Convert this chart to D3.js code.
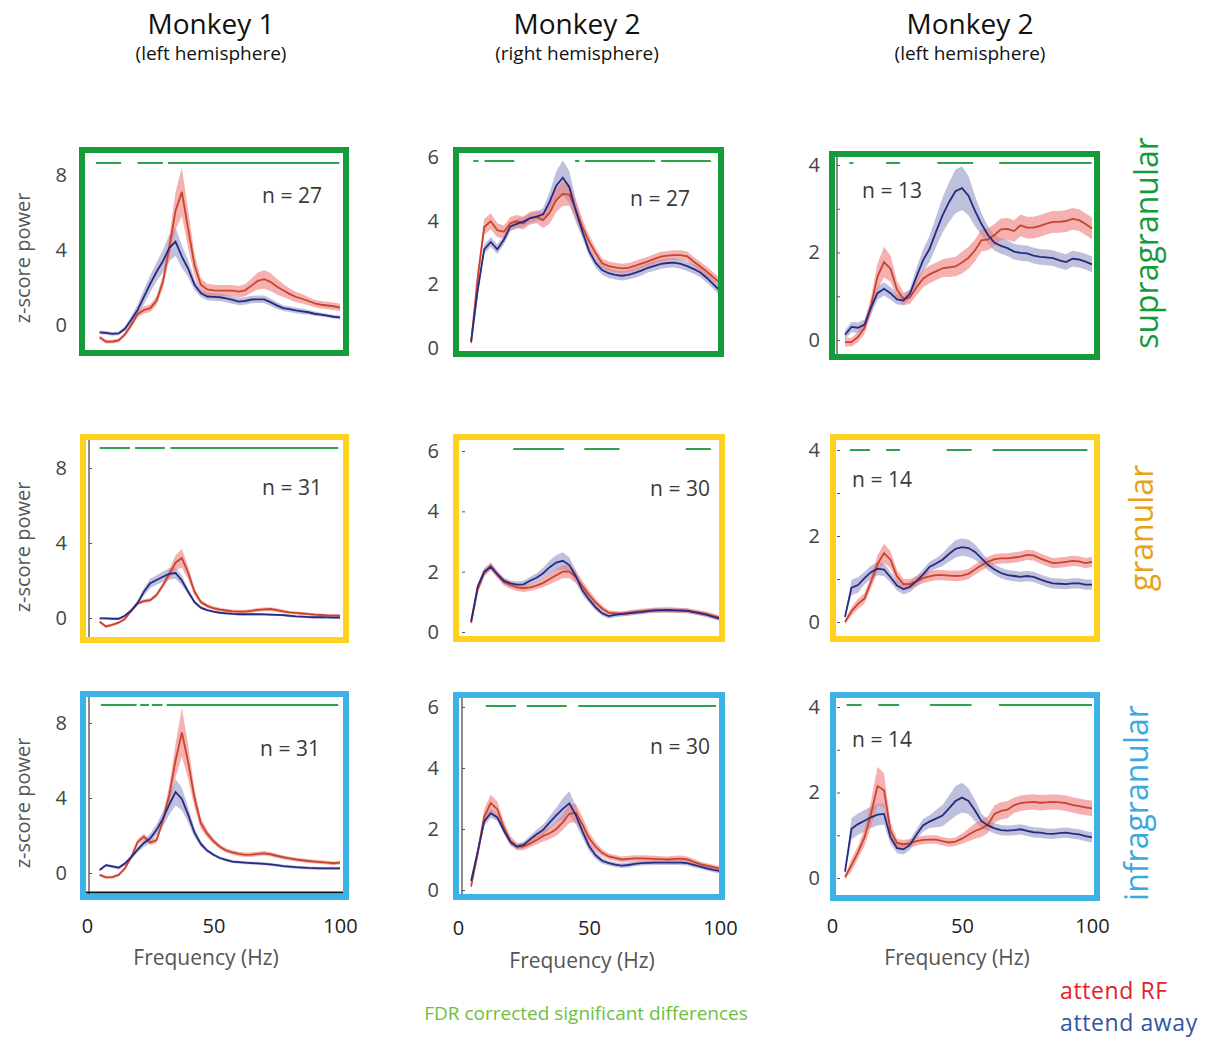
<!DOCTYPE html>
<html>
<head>
<meta charset="utf-8">
<script src="https://cdn.jsdelivr.net/npm/d3@7"></script>
<style>
  body { margin: 0; background: #fff; }
  svg { display: block; }
  text { font-family: 'Open Sans', 'Noto Sans', sans-serif; }
</style>
</head>
<body>
<svg id="fig" width="1227" height="1039"></svg>
<script>
// Frequency grid (Hz) shared by every spectrum
const freqs = d3.range(5, 100.01, 2.5);

// ---- Monkey 1, left hemisphere ----
const supraM1L_rf      = [-0.66,-0.89,-0.89,-0.82,-0.5,0.0,0.58,0.8,0.9,1.3,2.3,4.1,6.1,7.1,5.1,3.2,2.15,1.9,1.85,1.83,1.83,1.83,1.78,1.85,2.1,2.35,2.44,2.3,2.05,1.85,1.66,1.5,1.4,1.28,1.15,1.08,1.04,1.0,0.93];
const supraM1L_rfSem   = [0.1,0.1,0.1,0.1,0.12,0.15,0.18,0.2,0.2,0.25,0.35,0.6,1.0,1.3,1.0,0.6,0.35,0.3,0.3,0.3,0.3,0.3,0.3,0.32,0.38,0.45,0.5,0.48,0.42,0.35,0.3,0.28,0.25,0.22,0.2,0.2,0.2,0.2,0.2];
const supraM1L_away    = [-0.39,-0.42,-0.47,-0.45,-0.2,0.28,0.8,1.5,2.2,2.84,3.4,4.1,4.45,3.65,3.0,2.15,1.7,1.52,1.5,1.48,1.42,1.34,1.25,1.28,1.36,1.37,1.37,1.22,1.05,0.9,0.85,0.78,0.73,0.68,0.6,0.55,0.5,0.44,0.41];
const supraM1L_awaySem = [0.1,0.1,0.1,0.1,0.12,0.2,0.3,0.4,0.45,0.5,0.6,0.7,0.75,0.6,0.45,0.3,0.2,0.2,0.2,0.2,0.2,0.2,0.2,0.2,0.2,0.2,0.2,0.2,0.18,0.15,0.15,0.15,0.15,0.12,0.12,0.1,0.1,0.1,0.1];

const granM1L_rf       = [-0.2,-0.45,-0.36,-0.25,-0.05,0.4,0.78,0.9,0.95,1.23,1.75,2.35,2.95,3.2,2.4,1.4,0.85,0.65,0.52,0.45,0.4,0.35,0.34,0.34,0.38,0.43,0.46,0.48,0.42,0.35,0.3,0.27,0.24,0.21,0.18,0.16,0.14,0.13,0.12];
const granM1L_rfSem    = [0.08,0.08,0.08,0.08,0.08,0.1,0.1,0.1,0.1,0.12,0.15,0.25,0.4,0.5,0.35,0.2,0.12,0.1,0.1,0.1,0.1,0.1,0.1,0.1,0.1,0.1,0.1,0.1,0.1,0.1,0.08,0.08,0.08,0.08,0.08,0.08,0.08,0.08,0.08];
const granM1L_away     = [-0.02,-0.02,-0.04,-0.04,0.12,0.4,0.8,1.4,1.85,2.03,2.2,2.35,2.4,2.0,1.4,0.85,0.55,0.42,0.34,0.28,0.25,0.22,0.2,0.2,0.2,0.2,0.19,0.18,0.17,0.15,0.12,0.09,0.07,0.05,0.04,0.04,0.03,0.02,0.02];
const granM1L_awaySem  = [0.06,0.06,0.06,0.06,0.08,0.1,0.15,0.2,0.25,0.25,0.28,0.3,0.3,0.25,0.15,0.1,0.08,0.06,0.06,0.06,0.06,0.06,0.06,0.06,0.06,0.06,0.06,0.06,0.06,0.06,0.06,0.06,0.06,0.06,0.06,0.06,0.06,0.06,0.06];

const infraM1L_rf      = [-0.1,-0.23,-0.22,-0.1,0.25,0.85,1.65,1.94,1.62,1.75,2.8,4.15,6.0,7.5,5.9,4.0,2.65,2.1,1.7,1.4,1.2,1.1,1.02,0.97,0.98,1.02,1.05,1.0,0.92,0.84,0.78,0.72,0.68,0.64,0.61,0.58,0.55,0.52,0.55];
const infraM1L_rfSem   = [0.08,0.08,0.08,0.08,0.1,0.12,0.15,0.15,0.12,0.15,0.25,0.5,0.9,1.3,0.9,0.5,0.3,0.2,0.15,0.12,0.12,0.12,0.12,0.12,0.12,0.12,0.12,0.12,0.1,0.1,0.1,0.1,0.1,0.1,0.1,0.1,0.1,0.1,0.1];
const infraM1L_away    = [0.16,0.42,0.35,0.28,0.5,0.85,1.25,1.6,1.85,2.3,2.9,3.65,4.32,3.95,3.1,2.15,1.55,1.2,0.97,0.8,0.7,0.61,0.58,0.55,0.53,0.51,0.49,0.46,0.42,0.37,0.34,0.31,0.29,0.27,0.26,0.25,0.25,0.25,0.25];
const infraM1L_awaySem = [0.08,0.08,0.08,0.08,0.1,0.12,0.15,0.2,0.25,0.3,0.4,0.55,0.7,0.6,0.4,0.25,0.15,0.1,0.08,0.08,0.08,0.08,0.08,0.08,0.08,0.08,0.08,0.08,0.08,0.08,0.08,0.08,0.08,0.08,0.08,0.08,0.08,0.08,0.08];

// ---- Monkey 2, right hemisphere ----
const supraM2R_rf      = [0.17,2.2,3.8,3.98,3.7,3.65,3.92,3.98,3.92,4.08,4.12,4.02,4.25,4.65,4.84,4.82,4.35,3.8,3.35,2.98,2.66,2.57,2.53,2.5,2.52,2.58,2.65,2.72,2.8,2.87,2.9,2.92,2.92,2.88,2.71,2.56,2.4,2.22,2.05];
const supraM2R_rfSem   = [0.1,0.25,0.25,0.25,0.22,0.2,0.2,0.2,0.2,0.2,0.2,0.25,0.35,0.38,0.38,0.35,0.3,0.25,0.2,0.18,0.15,0.15,0.15,0.15,0.15,0.15,0.15,0.15,0.15,0.15,0.15,0.15,0.15,0.15,0.15,0.15,0.15,0.15,0.15];
const supraM2R_away    = [0.2,1.8,3.1,3.33,3.1,3.4,3.82,3.9,3.97,4.08,4.13,4.2,4.6,5.1,5.35,5.05,4.3,3.65,3.05,2.68,2.45,2.35,2.3,2.27,2.3,2.36,2.43,2.52,2.58,2.64,2.67,2.68,2.64,2.57,2.48,2.37,2.2,2.0,1.8];
const supraM2R_awaySem = [0.1,0.2,0.15,0.15,0.15,0.15,0.15,0.15,0.15,0.15,0.15,0.2,0.3,0.45,0.55,0.5,0.35,0.2,0.15,0.15,0.15,0.15,0.15,0.15,0.15,0.15,0.15,0.15,0.15,0.15,0.15,0.15,0.15,0.15,0.15,0.15,0.15,0.15,0.15];

const granM2R_rf       = [0.3,1.4,1.95,2.19,1.9,1.66,1.55,1.48,1.45,1.48,1.54,1.63,1.76,1.88,2.0,2.0,1.82,1.52,1.23,0.98,0.78,0.64,0.62,0.6,0.63,0.67,0.69,0.71,0.73,0.73,0.73,0.72,0.72,0.71,0.67,0.63,0.59,0.53,0.47];
const granM2R_rfSem    = [0.08,0.1,0.12,0.12,0.12,0.12,0.12,0.12,0.12,0.12,0.12,0.15,0.18,0.2,0.22,0.22,0.2,0.18,0.15,0.12,0.1,0.08,0.08,0.08,0.08,0.08,0.08,0.08,0.08,0.08,0.08,0.08,0.08,0.08,0.08,0.08,0.08,0.08,0.08];
const granM2R_away     = [0.35,1.5,2.0,2.16,1.92,1.7,1.61,1.57,1.58,1.7,1.8,1.95,2.15,2.3,2.36,2.22,1.85,1.38,1.08,0.82,0.62,0.53,0.57,0.6,0.62,0.64,0.66,0.69,0.71,0.72,0.73,0.72,0.71,0.7,0.66,0.62,0.57,0.5,0.44];
const granM2R_awaySem  = [0.08,0.1,0.12,0.12,0.1,0.1,0.1,0.1,0.12,0.12,0.15,0.18,0.22,0.25,0.28,0.25,0.2,0.15,0.12,0.1,0.08,0.08,0.08,0.08,0.08,0.08,0.08,0.08,0.08,0.08,0.08,0.08,0.08,0.08,0.08,0.08,0.08,0.08,0.08];

const infraM2R_rf      = [0.12,1.2,2.4,2.85,2.65,2.05,1.62,1.42,1.42,1.52,1.64,1.77,1.86,2.0,2.22,2.5,2.53,2.15,1.7,1.42,1.22,1.1,1.05,1.0,1.02,1.04,1.04,1.03,1.02,1.01,1.0,1.02,1.03,1.0,0.92,0.85,0.8,0.75,0.7];
const infraM2R_rfSem   = [0.08,0.2,0.25,0.28,0.25,0.2,0.15,0.12,0.12,0.12,0.15,0.18,0.2,0.22,0.25,0.3,0.3,0.25,0.2,0.15,0.12,0.1,0.1,0.1,0.1,0.1,0.1,0.1,0.1,0.1,0.1,0.1,0.1,0.1,0.1,0.08,0.08,0.08,0.08];
const infraM2R_away    = [0.3,1.25,2.25,2.52,2.38,1.95,1.57,1.42,1.48,1.66,1.83,1.97,2.22,2.45,2.66,2.84,2.45,1.92,1.44,1.14,0.96,0.88,0.83,0.8,0.82,0.86,0.88,0.89,0.9,0.9,0.9,0.9,0.9,0.88,0.82,0.77,0.71,0.66,0.62];
const infraM2R_awaySem = [0.08,0.15,0.15,0.15,0.12,0.1,0.1,0.1,0.1,0.12,0.15,0.18,0.2,0.25,0.35,0.4,0.3,0.2,0.15,0.12,0.1,0.08,0.08,0.08,0.08,0.08,0.08,0.08,0.08,0.08,0.08,0.08,0.08,0.08,0.08,0.08,0.08,0.08,0.08];

// ---- Monkey 2, left hemisphere ----
const supraM2L_rf      = [-0.05,-0.05,0.07,0.28,0.78,1.45,1.78,1.63,1.15,0.94,0.98,1.2,1.4,1.5,1.57,1.64,1.66,1.68,1.77,1.88,2.05,2.28,2.3,2.4,2.53,2.54,2.49,2.62,2.57,2.57,2.61,2.66,2.7,2.7,2.72,2.77,2.74,2.65,2.55];
const supraM2L_rfSem   = [0.1,0.1,0.12,0.15,0.2,0.3,0.35,0.3,0.2,0.15,0.15,0.18,0.2,0.2,0.2,0.2,0.22,0.22,0.25,0.25,0.25,0.25,0.25,0.25,0.25,0.25,0.25,0.25,0.25,0.25,0.25,0.25,0.25,0.25,0.25,0.25,0.25,0.25,0.25];
const supraM2L_away    = [0.12,0.3,0.28,0.35,0.74,1.07,1.17,1.07,0.93,0.9,1.06,1.45,1.82,2.08,2.47,2.85,3.15,3.4,3.47,3.3,2.95,2.65,2.4,2.22,2.15,2.1,2.02,1.99,1.98,1.93,1.9,1.89,1.87,1.82,1.78,1.86,1.84,1.79,1.73];
const supraM2L_awaySem = [0.1,0.12,0.12,0.12,0.15,0.15,0.15,0.15,0.12,0.1,0.12,0.2,0.25,0.3,0.35,0.4,0.45,0.5,0.5,0.45,0.35,0.25,0.2,0.18,0.18,0.18,0.18,0.18,0.18,0.18,0.18,0.18,0.18,0.18,0.18,0.18,0.18,0.18,0.18];

const granM2L_rf       = [0.0,0.25,0.42,0.55,0.93,1.35,1.6,1.45,1.06,0.88,0.88,0.95,1.02,1.06,1.09,1.09,1.08,1.07,1.08,1.12,1.22,1.32,1.4,1.46,1.48,1.48,1.5,1.52,1.56,1.55,1.48,1.42,1.37,1.38,1.4,1.42,1.41,1.37,1.4];
const granM2L_rfSem    = [0.05,0.1,0.12,0.12,0.15,0.2,0.22,0.2,0.15,0.12,0.12,0.12,0.12,0.12,0.12,0.12,0.12,0.12,0.12,0.12,0.12,0.12,0.12,0.12,0.12,0.12,0.12,0.12,0.12,0.12,0.12,0.12,0.12,0.12,0.12,0.12,0.12,0.12,0.12];
const granM2L_away     = [0.12,0.8,0.86,1.02,1.16,1.24,1.22,1.04,0.85,0.76,0.82,0.95,1.1,1.28,1.36,1.45,1.58,1.7,1.74,1.72,1.63,1.48,1.33,1.22,1.14,1.09,1.07,1.05,1.07,1.05,0.99,0.94,0.9,0.89,0.88,0.9,0.9,0.87,0.87];
const granM2L_awaySem  = [0.05,0.18,0.18,0.15,0.15,0.15,0.15,0.12,0.12,0.12,0.12,0.12,0.12,0.12,0.12,0.15,0.18,0.2,0.2,0.2,0.18,0.15,0.12,0.12,0.12,0.12,0.12,0.12,0.12,0.12,0.12,0.12,0.12,0.12,0.12,0.12,0.12,0.12,0.12];

const infraM2L_rf      = [0.02,0.3,0.6,0.95,1.5,2.15,2.05,1.1,0.82,0.79,0.81,0.86,0.89,0.9,0.9,0.86,0.83,0.85,0.92,1.01,1.1,1.16,1.25,1.5,1.57,1.6,1.7,1.75,1.77,1.78,1.76,1.77,1.78,1.77,1.75,1.71,1.68,1.65,1.63];
const infraM2L_rfSem   = [0.05,0.15,0.15,0.2,0.3,0.45,0.4,0.2,0.1,0.1,0.1,0.1,0.1,0.1,0.1,0.1,0.1,0.1,0.12,0.15,0.18,0.2,0.2,0.2,0.2,0.2,0.18,0.18,0.18,0.18,0.18,0.18,0.18,0.18,0.18,0.18,0.18,0.18,0.18];
const infraM2L_away    = [0.15,1.15,1.26,1.34,1.42,1.48,1.5,0.95,0.7,0.67,0.78,1.02,1.23,1.32,1.39,1.46,1.63,1.8,1.88,1.8,1.58,1.33,1.23,1.16,1.12,1.11,1.12,1.14,1.1,1.07,1.06,1.04,1.03,1.05,1.06,1.04,1.02,0.98,0.95];
const infraM2L_awaySem = [0.05,0.25,0.25,0.25,0.25,0.25,0.25,0.15,0.12,0.12,0.12,0.12,0.15,0.15,0.2,0.25,0.3,0.35,0.35,0.3,0.25,0.18,0.12,0.12,0.12,0.12,0.12,0.12,0.12,0.12,0.12,0.12,0.12,0.12,0.12,0.12,0.12,0.12,0.12];

// FDR-corrected significant frequency ranges (Hz)
const supraM1L_sig = [[3.5,13.5],[20,30],[32,99.7]];
const granM1L_sig  = [[5,17],[19,30.8],[33,99.3]];
const infraM1L_sig = [[5.5,19.6],[21,24.5],[25.6,29.8],[31.5,99.3]];
const supraM2R_sig = [[5.8,7.8],[10.1,21.5],[44.7,46.3],[48.5,75.2],[77.5,96.5]];
const granM2R_sig  = [[21.1,40.5],[48.2,61.6],[86.9,96.5]];
const infraM2R_sig = [[10.6,22.1],[26.2,41.5],[45.9,98.5]];
const supraM2L_sig = [[6.7,8.2],[20.8,26.2],[40.5,54.3],[64.3,99.9]];
const granM2L_sig  = [[6.9,14.6],[20.8,26.2],[44.1,53.7],[61.8,98.2]];
const infraM2L_sig = [[5.6,11.4],[17.8,25.8],[37.7,53.7],[64.2,100]];

// Number of recording sites per panel
const siteCounts = [[27, 27, 13], [31, 30, 14], [31, 30, 14]];

// Titles and labels
const columnTitles = ["Monkey 1", "Monkey 2", "Monkey 2"];
const columnSubtitles = ["(left hemisphere)", "(right hemisphere)", "(left hemisphere)"];
const layerNames = ["supragranular", "granular", "infragranular"];
const yTickValues = [[0, 4, 8], [0, 2, 4, 6], [0, 2, 4]];
const yMinorTicks = [[], [], [1, 3]];
const xTickValues = [0, 50, 100];

// Panel data in reading order (row = layer, column = hemisphere)
const panelData = [
  [ {rf: supraM1L_rf, rfSem: supraM1L_rfSem, away: supraM1L_away, awaySem: supraM1L_awaySem, sig: supraM1L_sig},
    {rf: supraM2R_rf, rfSem: supraM2R_rfSem, away: supraM2R_away, awaySem: supraM2R_awaySem, sig: supraM2R_sig},
    {rf: supraM2L_rf, rfSem: supraM2L_rfSem, away: supraM2L_away, awaySem: supraM2L_awaySem, sig: supraM2L_sig} ],
  [ {rf: granM1L_rf, rfSem: granM1L_rfSem, away: granM1L_away, awaySem: granM1L_awaySem, sig: granM1L_sig},
    {rf: granM2R_rf, rfSem: granM2R_rfSem, away: granM2R_away, awaySem: granM2R_awaySem, sig: granM2R_sig},
    {rf: granM2L_rf, rfSem: granM2L_rfSem, away: granM2L_away, awaySem: granM2L_awaySem, sig: granM2L_sig} ],
  [ {rf: infraM1L_rf, rfSem: infraM1L_rfSem, away: infraM1L_away, awaySem: infraM1L_awaySem, sig: infraM1L_sig},
    {rf: infraM2R_rf, rfSem: infraM2R_rfSem, away: infraM2R_away, awaySem: infraM2R_awaySem, sig: infraM2R_sig},
    {rf: infraM2L_rf, rfSem: infraM2L_rfSem, away: infraM2L_away, awaySem: infraM2L_awaySem, sig: infraM2L_sig} ]
];

// ---------------- layout ----------------
const colLayout = [
  {cx: 211, x0: 87,  x100: 340,  labelX: 70,  axisX: 89,  xLabelY: 916, freqX: 206, freqY: 957},
  {cx: 577, x0: 458, x100: 720,  labelX: 442, axisX: 462, xLabelY: 918, freqX: 582, freqY: 960},
  {cx: 970, x0: 832, x100: 1092, labelX: 823, axisX: 837, xLabelY: 916, freqX: 957, freqY: 957}
];
const layerColors = ["#169b3a", "#ffd21f", "#3db2e6"];
const layerTextColors = ["#169b3a", "#e6a21a", "#3aa9e0"];
const layerLabelPos = [{x: 1145, y: 243}, {x: 1140, y: 528}, {x: 1135, y: 803}];
const zLabelY = [258, 547, 803];

// per panel: frame [x1,y1,x2,y2], pixel of 0 and of top tick, level of significance bar, n label centre, axis style
const panelLayout = [
  [ {frame: [79,147,349,356], y0: 325, yTop: 175, sigY: 163, nPos: [292,195], axis: "none"},
    {frame: [453,147,724,357], y0: 348, yTop: 157, sigY: 161, nPos: [660,198], axis: "none"},
    {frame: [829,151,1100,360], y0: 340, yTop: 165, sigY: 163, nPos: [892,190], axis: "line"} ],
  [ {frame: [80,434,349,643], y0: 618, yTop: 468, sigY: 448, nPos: [292,487], axis: "line"},
    {frame: [453,434,725,642], y0: 632, yTop: 451, sigY: 449, nPos: [680,488], axis: "ticks"},
    {frame: [830,434,1100,642], y0: 622, yTop: 450, sigY: 450, nPos: [882,479], axis: "ticks"} ],
  [ {frame: [80,691,349,900], y0: 873, yTop: 723, sigY: 705, nPos: [290,748], axis: "lineX"},
    {frame: [453,692,725,900], y0: 890, yTop: 707, sigY: 706, nPos: [680,746], axis: "line"},
    {frame: [830,692,1100,901], y0: 878, yTop: 707, sigY: 705, nPos: [882,739], axis: "ticks"} ]
];

const RF_LINE = "#c8452b", RF_BAND = "#ee7d7d";
const AWAY_LINE = "#272a82", AWAY_BAND = "#8a8cc0";
const SIG_COLOR = "#2fa34c";
const FRAME_W = 6;
const intFormat = d3.format("d");

const svg = d3.select("#fig");

// column titles
columnTitles.forEach((t, c) => {
  svg.append("text").attr("x", colLayout[c].cx).attr("y", 34)
    .attr("text-anchor", "middle").attr("font-size", 28).attr("fill", "#111").text(t);
  svg.append("text").attr("x", colLayout[c].cx).attr("y", 60)
    .attr("text-anchor", "middle").attr("font-size", 19).attr("fill", "#111").text(columnSubtitles[c]);
});

panelData.forEach((row, r) => {
  row.forEach((d, c) => {
    const L = panelLayout[r][c], C = colLayout[c];
    const top = d3.max(yTickValues[c]);
    const x = d3.scaleLinear().domain([0, 100]).range([C.x0, C.x100]);
    const y = d3.scaleLinear().domain([0, top]).range([L.y0, L.yTop]);
    const [fx1, fy1, fx2, fy2] = L.frame;
    const id = `clip-${r}-${c}`;
    svg.append("clipPath").attr("id", id).append("rect")
      .attr("x", fx1 + FRAME_W).attr("y", fy1 + FRAME_W)
      .attr("width", fx2 - fx1 - 2 * FRAME_W).attr("height", fy2 - fy1 - 2 * FRAME_W);

    const g = svg.append("g");
    const inner = g.append("g").attr("clip-path", `url(#${id})`);

    // axis line and tick marks inside the frame
    const ticksAll = yTickValues[c].concat(yMinorTicks[c]);
    if (L.axis !== "none") {
      const ax = d3.axisRight(y).tickValues(ticksAll).tickSize(3).tickFormat("");
      const axG = inner.append("g").attr("transform", `translate(${C.axisX},0)`).call(ax);
      axG.selectAll(".tick line").attr("stroke", "#555").attr("stroke-width", 1);
      const dom = axG.select(".domain");
      if (L.axis === "ticks") dom.remove();
      else dom.attr("d", `M0,${fy1 + FRAME_W}V${fy2 - FRAME_W}`).attr("stroke", "#666").attr("stroke-width", 1.5);
    }
    if (L.axis === "lineX") {
      inner.append("line").attr("x1", fx1).attr("x2", fx2)
        .attr("y1", fy2 - FRAME_W - 1.5).attr("y2", fy2 - FRAME_W - 1.5)
        .attr("stroke", "#111").attr("stroke-width", 2);
    }

    const pts = (m, s) => freqs.map((f, i) => ({f, m: m[i], s: s[i]}));
    const area = d3.area().x(p => x(p.f)).y0(p => y(p.m - p.s)).y1(p => y(p.m + p.s));
    const line = d3.line().x(p => x(p.f)).y(p => y(p.m));
    const rfPts = pts(d.rf, d.rfSem), awayPts = pts(d.away, d.awaySem);

    inner.append("path").attr("d", area(awayPts)).attr("fill", AWAY_BAND).attr("fill-opacity", 0.55);
    inner.append("path").attr("d", area(rfPts)).attr("fill", RF_BAND).attr("fill-opacity", 0.6);
    inner.append("path").attr("d", line(rfPts)).attr("fill", "none").attr("stroke", RF_LINE).attr("stroke-width", 1.8);
    inner.append("path").attr("d", line(awayPts)).attr("fill", "none").attr("stroke", AWAY_LINE).attr("stroke-width", 1.8);

    // significance bars
    inner.selectAll("line.sig").data(d.sig).join("line").attr("class", "sig")
      .attr("x1", s => x(s[0])).attr("x2", s => x(s[1]))
      .attr("y1", L.sigY).attr("y2", L.sigY)
      .attr("stroke", SIG_COLOR).attr("stroke-width", 2);

    // site count
    g.append("text").attr("x", L.nPos[0]).attr("y", L.nPos[1])
      .attr("text-anchor", "middle").attr("dominant-baseline", "central")
      .attr("font-size", 21).attr("fill", "#3a3a3a").text(`n = ${siteCounts[r][c]}`);

    // frame
    g.append("rect")
      .attr("x", fx1 + FRAME_W / 2).attr("y", fy1 + FRAME_W / 2)
      .attr("width", fx2 - fx1 - FRAME_W).attr("height", fy2 - fy1 - FRAME_W)
      .attr("fill", "none").attr("stroke", layerColors[r]).attr("stroke-width", FRAME_W);

    // y tick labels
    const yl = g.append("g").attr("transform", `translate(${C.labelX},0)`)
      .call(d3.axisLeft(y).tickValues(yTickValues[c]).tickFormat(intFormat).tickSize(0).tickPadding(3));
    yl.select(".domain").remove();
    yl.selectAll("text").attr("font-size", 20).attr("fill", "#444").attr("font-family", "'Open Sans', sans-serif");

    // x axis labels on the bottom row
    if (r === 2) {
      const xl = g.append("g").attr("transform", `translate(0,${C.xLabelY})`)
        .call(d3.axisBottom(x).tickValues(xTickValues).tickFormat(intFormat).tickSize(0).tickPadding(3));
      xl.select(".domain").remove();
      xl.selectAll("text").attr("font-size", 20).attr("fill", "#222").attr("font-family", "'Open Sans', sans-serif");
      svg.append("text").attr("x", C.freqX).attr("y", C.freqY)
        .attr("text-anchor", "middle").attr("dominant-baseline", "central")
        .attr("font-size", 21).attr("fill", "#555").text("Frequency (Hz)");
    }
  });

  // y axis title for the row
  svg.append("text").attr("transform", `translate(22,${zLabelY[r]}) rotate(-90)`)
    .attr("text-anchor", "middle").attr("dominant-baseline", "central")
    .attr("font-size", 20).attr("fill", "#555").text("z-score power");

  // layer label on the right
  svg.append("text").attr("transform", `translate(${layerLabelPos[r].x},${layerLabelPos[r].y}) rotate(-90)`)
    .attr("text-anchor", "middle").attr("dominant-baseline", "central")
    .attr("font-size", 32).attr("fill", layerTextColors[r]).text(layerNames[r]);
});

// legend
svg.append("text").attr("x", 586).attr("y", 1013).attr("text-anchor", "middle")
  .attr("dominant-baseline", "central").attr("font-size", 19).attr("fill", "#6dbf3e")
  .text("FDR corrected significant differences");
svg.append("text").attr("x", 1060).attr("y", 999)
  .attr("font-size", 23).attr("letter-spacing", 0.6).attr("fill", "#e3202a").text("attend RF");
svg.append("text").attr("x", 1060).attr("y", 1031)
  .attr("font-size", 23).attr("letter-spacing", 0.6).attr("fill", "#2f55a4").text("attend away");
</script>
</body>
</html>
